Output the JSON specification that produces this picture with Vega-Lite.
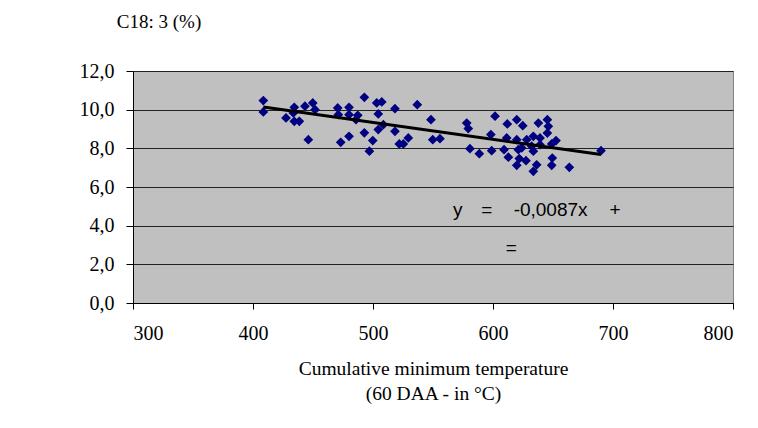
{
  "$schema": "https://vega.github.io/schema/vega-lite/v6.json",
  "autosize": {"type": "none"},
  "width": 600,
  "height": 232,
  "padding": {"left": 133, "top": 71, "right": 25, "bottom": 125},
  "background": "white",
  "config": {
    "view": {"fill": "#c0c0c0", "stroke": "#808080", "strokeWidth": 1},
    "axis": {"labelFont": "Liberation Serif", "titleFont": "Liberation Serif", "labelFontSize": 20, "titleFontSize": 19.5, "labelColor": "black", "titleColor": "black", "titleFontWeight": "normal", "domainColor": "black", "tickColor": "black"}
  },
  "datasets": {
    "pts": [
      {"t": 408.6, "c": 10.47}, {"t": 408.6, "c": 9.88}, {"t": 427.5, "c": 9.57}, {"t": 434.4, "c": 10.12},
      {"t": 433.6, "c": 9.83}, {"t": 434.4, "c": 9.40}, {"t": 438.6, "c": 9.40}, {"t": 443.3, "c": 10.18},
      {"t": 449.8, "c": 10.35}, {"t": 451.7, "c": 10.0}, {"t": 446.1, "c": 8.45}, {"t": 470.6, "c": 10.09},
      {"t": 471.1, "c": 9.74}, {"t": 480.0, "c": 10.12}, {"t": 480.0, "c": 9.74}, {"t": 487.3, "c": 9.71},
      {"t": 485.8, "c": 9.48}, {"t": 492.8, "c": 10.64}, {"t": 492.8, "c": 8.80}, {"t": 480.0, "c": 8.62},
      {"t": 473.1, "c": 8.31}, {"t": 497.0, "c": 7.85}, {"t": 503.1, "c": 10.35}, {"t": 507.3, "c": 10.40},
      {"t": 504.4, "c": 9.78}, {"t": 518.3, "c": 10.05}, {"t": 536.9, "c": 10.26}, {"t": 548.3, "c": 9.48},
      {"t": 578.1, "c": 9.31}, {"t": 579.4, "c": 9.02}, {"t": 504.4, "c": 8.97}, {"t": 508.6, "c": 9.22},
      {"t": 518.3, "c": 8.88}, {"t": 499.8, "c": 8.40}, {"t": 521.9, "c": 8.23}, {"t": 525.3, "c": 8.23},
      {"t": 529.4, "c": 8.54}, {"t": 549.8, "c": 8.45}, {"t": 555.8, "c": 8.50}, {"t": 580.8, "c": 7.98},
      {"t": 588.6, "c": 7.72}, {"t": 598.2, "c": 8.71}, {"t": 601.7, "c": 9.66}, {"t": 611.9, "c": 9.26},
      {"t": 619.8, "c": 9.48}, {"t": 624.8, "c": 9.17}, {"t": 611.4, "c": 8.54}, {"t": 619.8, "c": 8.45},
      {"t": 628.1, "c": 8.45}, {"t": 637.8, "c": 9.31}, {"t": 645.3, "c": 9.48}, {"t": 646.1, "c": 9.14},
      {"t": 645.3, "c": 8.79}, {"t": 633.6, "c": 8.62}, {"t": 639.2, "c": 8.54}, {"t": 652.5, "c": 8.40},
      {"t": 648.9, "c": 8.23}, {"t": 598.9, "c": 7.88}, {"t": 609.2, "c": 7.93}, {"t": 612.8, "c": 7.54},
      {"t": 621.1, "c": 7.93}, {"t": 621.9, "c": 7.47}, {"t": 619.8, "c": 7.12}, {"t": 627.5, "c": 7.36},
      {"t": 633.6, "c": 7.85}, {"t": 636.4, "c": 7.15}, {"t": 633.6, "c": 6.81}, {"t": 649.4, "c": 7.50},
      {"t": 648.9, "c": 7.12}, {"t": 663.6, "c": 7.02}, {"t": 690.0, "c": 7.88}, {"t": 632.2, "c": 8.11},
      {"t": 639.2, "c": 8.19}, {"t": 623.9, "c": 8.02}
    ],
    "trend": [
      {"t": 408.6, "c": 10.14},
      {"t": 690.0, "c": 7.68}
    ],
    "labels": [
      {"t": 570.6, "c": 4.81, "txt": "y"},
      {"t": 594.8, "c": 4.81, "txt": "="},
      {"t": 648.0, "c": 4.81, "txt": "-0,0087x"},
      {"t": 701.7, "c": 4.81, "txt": "+"},
      {"t": 615.3, "c": 2.85, "txt": "="}
    ],
    "heading": [
      {"t": 286.5, "c": 14.55, "txt": "C18: 3 (%)"}
    ]
  },
  "encoding": {
    "x": {"field": "t", "type": "quantitative", "scale": {"domain": [300, 800], "nice": false, "zero": false},
      "axis": {"values": [300, 400, 500, 600, 700, 800], "grid": false, "labelOverlap": false, "labelFont": "Liberation Serif", "labelFontSize": 20, "titleFont": "Liberation Serif", "titleFontSize": 19.5,
        "title": ["Cumulative minimum temperature", "(60 DAA - in °C)"], "titlePadding": 16, "labelPadding": 14, "tickSize": 6, "titleLineHeight": 25}},
    "y": {"field": "c", "type": "quantitative", "scale": {"domain": [0, 12], "nice": false},
      "axis": {"values": [0, 2, 4, 6, 8, 10, 12], "title": null, "grid": true, "gridColor": "#222222", "gridWidth": 1, "tickSize": 7, "labelPadding": 12, "labelOverlap": false, "labelFont": "Liberation Serif", "labelFontSize": 20,
        "labelExpr": "replace(format(datum.value, '.1f'), '.', ',')"}}
  },
  "layer": [
    {
      "data": {"name": "pts"},
      "mark": {"type": "point", "shape": "diamond", "filled": true, "color": "#000080", "size": 95, "opacity": 1}
    },
    {
      "data": {"name": "trend"},
      "mark": {"type": "line", "color": "black", "strokeWidth": 3}
    },
    {
      "data": {"name": "labels"},
      "mark": {"type": "text", "font": "Liberation Sans", "fontSize": 19, "color": "black", "align": "center", "baseline": "middle"},
      "encoding": {
        "text": {"field": "txt"}
      }
    },
    {
      "data": {"name": "heading"},
      "mark": {"type": "text", "font": "Liberation Serif", "fontSize": 19, "color": "black", "align": "left", "baseline": "middle", "clip": false},
      "encoding": {
        "text": {"field": "txt"}
      }
    }
  ]
}
